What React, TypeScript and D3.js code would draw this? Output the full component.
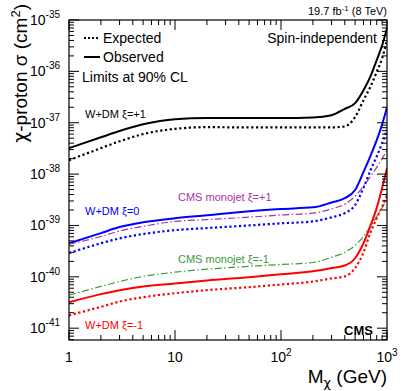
import React, { useEffect, useRef } from 'react';
import * as d3 from 'd3';

// masses (GeV)
const masses = [1, 2, 3, 5, 10, 20, 50, 100, 200, 300, 400, 500, 600, 700, 800, 900, 1000];

// W+DM xi=+1
const wdmPlusObs = [3.2e-38, 5.2e-38, 6.9e-38, 9.3e-38, 1.17e-37, 1.23e-37, 1.23e-37, 1.23e-37, 1.26e-37, 1.4e-37, 1.86e-37, 2.4e-37, 4.3e-37, 8.1e-37, 1.66e-36, 3.2e-36, 6.9e-36];
const wdmPlusExp = [1.86e-38, 3.2e-38, 4.35e-38, 6e-38, 7.6e-38, 8.2e-38, 8.1e-38, 8.1e-38, 8.1e-38, 8.1e-38, 8.5e-38, 1.29e-37, 2.75e-37, 5.1e-37, 9.8e-37, 1.8e-36, 4.1e-36];
// W+DM xi=0
const wdmZeroObs = [4.5e-40, 7.1e-40, 9.3e-40, 1.15e-39, 1.38e-39, 1.58e-39, 1.9e-39, 2.1e-39, 2.25e-39, 2.8e-39, 3.4e-39, 4.9e-39, 1.1e-38, 2.3e-38, 4.6e-38, 9.3e-38, 2e-37];
const wdmZeroExp = [2.9e-40, 4.5e-40, 5.6e-40, 6.8e-40, 8.1e-40, 8.9e-40, 1.0e-39, 1.1e-39, 1.2e-39, 1.44e-39, 1.74e-39, 2.5e-39, 5.4e-39, 1.2e-38, 2.2e-38, 4e-38, 7.2e-38];
// CMS monojet
const monojetPlus = [4.3e-40, 6.1e-40, 7.8e-40, 9.6e-40, 1.2e-39, 1.3e-39, 1.45e-39, 1.6e-39, 1.74e-39, 2.1e-39, 2.6e-39, 3.7e-39, 5.8e-39, 9.1e-39, 1.35e-38, 2.0e-38, 2.9e-38];
const monojetMinus = [4.4e-41, 6.5e-41, 8.1e-41, 1.02e-40, 1.23e-40, 1.41e-40, 1.6e-40, 1.74e-40, 1.9e-40, 2.4e-40, 3.0e-40, 4.1e-40, 6.1e-40, 9.6e-40, 1.5e-39, 2.2e-39, 3.4e-39];
// W+DM xi=-1
const wdmMinusObs = [3.2e-41, 4.6e-41, 5.5e-41, 6.5e-41, 7.4e-41, 8.5e-41, 9.8e-41, 1.12e-40, 1.28e-40, 1.48e-40, 1.66e-40, 2.3e-40, 4.5e-40, 1.0e-39, 2.2e-39, 5.4e-39, 1.3e-38];
const wdmMinusExp = [1.78e-41, 2.6e-41, 3.3e-41, 4.0e-41, 4.8e-41, 5.5e-41, 6.3e-41, 7.1e-41, 8.1e-41, 9.3e-41, 1.02e-40, 1.48e-40, 3.0e-40, 7.4e-40, 1.38e-39, 2.3e-39, 3.9e-39];

const xTickLabels = [
  { v: 1, base: '1', sup: '' },
  { v: 10, base: '10', sup: '' },
  { v: 100, base: '10', sup: '2' },
  { v: 1000, base: '10', sup: '3' },
];
const yExponents = [-35, -36, -37, -38, -39, -40, -41];

const PURPLE = '#a832a8';
const GREEN = '#3a9a3a';

const series = [
  { values: wdmPlusObs, color: '#000', dash: null, width: 2 },
  { values: wdmPlusExp, color: '#000', dash: '2.2,2.6', width: 2.2 },
  { values: wdmZeroObs, color: '#0000ff', dash: null, width: 2 },
  { values: wdmZeroExp, color: '#0000ff', dash: '2.2,2.6', width: 2.2 },
  { values: monojetPlus, color: PURPLE, dash: '7,2.5,1.5,2.5', width: 1.2 },
  { values: monojetMinus, color: GREEN, dash: '7,2.5,1.5,2.5', width: 1.2 },
  { values: wdmMinusObs, color: '#ff0000', dash: null, width: 2 },
  { values: wdmMinusExp, color: '#ff0000', dash: '2.2,2.6', width: 2.2 },
];

const curveLabels = [
  { text: 'W+DM ξ=+1', x: 85, y: 118, color: '#000' },
  { text: 'W+DM ξ=0', x: 85, y: 215, color: '#0000ff' },
  { text: 'CMS monojet ξ=+1', x: 178, y: 201, color: PURPLE },
  { text: 'CMS monojet ξ=-1', x: 178, y: 263, color: GREEN },
  { text: 'W+DM ξ=-1', x: 85, y: 329, color: '#ff0000' },
];

const W = 407;
const H = 391;
const FONT = '"Liberation Sans", Arial, Helvetica, sans-serif';
const GREEK = '"DejaVu Sans", sans-serif';

const App = () => {
  const ref = useRef<SVGSVGElement | null>(null);

  useEffect(() => {
    const svg = d3.select(ref.current);
    svg.selectAll('*').remove();

    const margin = { top: 20, right: 20, bottom: 51, left: 69 };
    const left = margin.left;
    const right = W - margin.right;
    const top = margin.top;
    const bottom = H - margin.bottom;

    const x = d3.scaleLog().domain([1, 1000]).range([left, right]);
    const y = d3.scaleLog().domain([Math.pow(10, -41.23), 1e-35]).range([bottom, top]);

    const g = svg.append('g').style('font-family', FONT);

    // curves
    const line = d3
      .line<number>()
      .x((d, i) => x(masses[i]))
      .y(d => y(d))
      .curve(d3.curveMonotoneX);

    const clip = svg.append('clipPath').attr('id', 'plotclip');
    clip.append('rect').attr('x', left).attr('y', top).attr('width', right - left).attr('height', bottom - top);

    const curves = g.append('g').attr('clip-path', 'url(#plotclip)');
    series.forEach(s => {
      curves
        .append('path')
        .attr('d', line(s.values))
        .attr('fill', 'none')
        .attr('stroke', s.color)
        .attr('stroke-width', s.width)
        .attr('stroke-dasharray', s.dash);
    });

    // frame
    g.append('rect')
      .attr('x', left)
      .attr('y', top)
      .attr('width', right - left)
      .attr('height', bottom - top)
      .attr('fill', 'none')
      .attr('stroke', '#000')
      .attr('stroke-width', 1.2);

    // x ticks (bottom + top, inside)
    const xTicks: { v: number; major: boolean }[] = [];
    for (let e = 0; e < 3; e++) {
      for (let k = 1; k < 10; k++) xTicks.push({ v: k * Math.pow(10, e), major: k === 1 });
    }
    xTicks.push({ v: 1000, major: true });
    xTicks.forEach(t => {
      const len = t.major ? 10 : 5;
      const px = x(t.v);
      g.append('line').attr('x1', px).attr('x2', px).attr('y1', bottom).attr('y2', bottom - len).attr('stroke', '#000').attr('stroke-width', 1);
      g.append('line').attr('x1', px).attr('x2', px).attr('y1', top).attr('y2', top + len).attr('stroke', '#000').attr('stroke-width', 1);
    });

    // y ticks (left + right, inside)
    const yTicks: { v: number; major: boolean }[] = [];
    for (let e = -42; e <= -35; e++) {
      for (let k = 1; k < 10; k++) {
        const v = k * Math.pow(10, e);
        if (v >= y.domain()[0] && v <= 1.0001e-35) yTicks.push({ v, major: k === 1 });
      }
    }
    yTicks.forEach(t => {
      const len = t.major ? 10 : 5;
      const py = y(t.v);
      g.append('line').attr('x1', left).attr('x2', left + len).attr('y1', py).attr('y2', py).attr('stroke', '#000').attr('stroke-width', 1);
      g.append('line').attr('x1', right).attr('x2', right - len).attr('y1', py).attr('y2', py).attr('stroke', '#000').attr('stroke-width', 1);
    });

    // x tick labels
    xTickLabels.forEach(t => {
      const txt = g
        .append('text')
        .attr('x', x(t.v))
        .attr('y', 362)
        .attr('text-anchor', 'middle')
        .style('font-size', '14px');
      txt.append('tspan').text(t.base);
      if (t.sup) txt.append('tspan').attr('dy', -6).style('font-size', '10px').text(t.sup);
    });

    // y tick labels
    yExponents.forEach(e => {
      const txt = g
        .append('text')
        .attr('x', 60)
        .attr('y', y(Math.pow(10, e)) + 5)
        .attr('text-anchor', 'end')
        .style('font-size', '14px');
      txt.append('tspan').text('10');
      txt.append('tspan').attr('dy', -7).style('font-size', '10px').text(String(e));
    });

    // axis titles
    const xt = g
      .append('text')
      .attr('x', right)
      .attr('y', 383)
      .attr('text-anchor', 'end')
      .style('font-size', '19px');
    xt.append('tspan').text('M');
    xt.append('tspan').attr('dy', 4).style('font-size', '13px').style('font-family', GREEK).text('χ');
    xt.append('tspan').attr('dy', -4).text(' (GeV)');

    const yt = g
      .append('text')
      .attr('transform', 'translate(27,4) rotate(-90)')
      .attr('text-anchor', 'end')
      .style('font-size', '19px');
    yt.append('tspan').style('font-family', GREEK).text('χ');
    yt.append('tspan').text('-proton σ (cm');
    yt.append('tspan').attr('dy', -7).style('font-size', '13px').text('2');
    yt.append('tspan').attr('dy', 7).text(')');

    // header
    const hd = g
      .append('text')
      .attr('x', right)
      .attr('y', 15)
      .attr('text-anchor', 'end')
      .style('font-size', '11px');
    hd.append('tspan').text('19.7 fb');
    hd.append('tspan').attr('dy', -4).style('font-size', '8px').text('-1');
    hd.append('tspan').attr('dy', 4).text(' (8 TeV)');

    g.append('text')
      .attr('x', 377)
      .attr('y', 43)
      .attr('text-anchor', 'end')
      .style('font-size', '14px')
      .text('Spin-independent');

    // legend
    g.append('line').attr('x1', 84).attr('x2', 100).attr('y1', 38).attr('y2', 38)
      .attr('stroke', '#000').attr('stroke-width', 2).attr('stroke-dasharray', '2,2');
    g.append('text').attr('x', 103).attr('y', 43).style('font-size', '14px').text('Expected');
    g.append('line').attr('x1', 84).attr('x2', 100).attr('y1', 57).attr('y2', 57)
      .attr('stroke', '#000').attr('stroke-width', 2);
    g.append('text').attr('x', 103).attr('y', 62).style('font-size', '14px').text('Observed');
    g.append('text').attr('x', 82).attr('y', 82).style('font-size', '14px').text('Limits at 90% CL');

    // curve labels
    curveLabels.forEach(l => {
      g.append('text')
        .attr('x', l.x)
        .attr('y', l.y)
        .style('font-size', '11px')
        .attr('fill', l.color)
        .text(l.text);
    });

    g.append('text')
      .attr('x', 373)
      .attr('y', 335)
      .attr('text-anchor', 'end')
      .style('font-size', '13px')
      .style('font-weight', 'bold')
      .text('CMS');
  }, []);

  return (
    <svg
      ref={ref}
      width={W}
      height={H}
      style={{ position: 'absolute', left: 0, top: 0, display: 'block', background: '#fff' }}
    />
  );
};

export default App;
